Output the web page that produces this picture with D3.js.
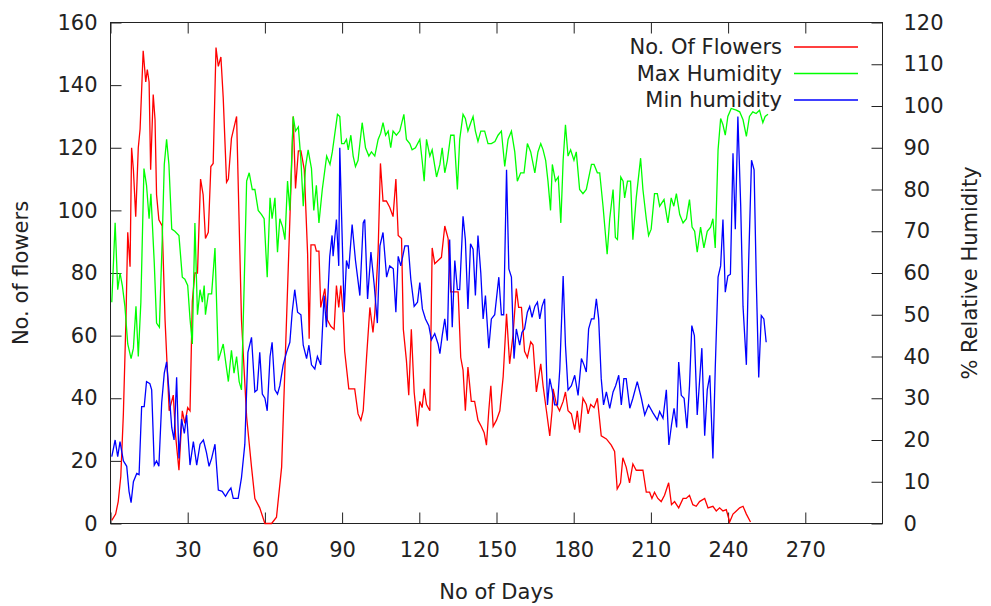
<!DOCTYPE html>
<html>
<head>
<meta charset="utf-8">
<script src="https://cdn.jsdelivr.net/npm/d3@7"></script>
<style>
  html, body { margin: 0; padding: 0; background: #fff; }
  svg text { font-family: "DejaVu Sans", sans-serif; fill: #222; }
</style>
</head>
<body>
<div id="chart"></div>
<script>
// No. of flowers (left axis)
var flowerDays = [0.5, 2, 3, 4, 5, 6, 6.7, 7.6, 8.2, 8.9, 9.8, 10.8, 11.5, 12.7, 13.7, 14.3, 15, 15.6, 16.6, 17.3, 17.9, 18.8, 20.1, 21.2, 22.8, 24.4, 25.3, 26.6, 27.9, 28.9, 30, 30.9, 31.8, 32.8, 33.8, 35, 36, 36.9, 38, 39, 39.9, 41, 41.9, 42.9, 43.8, 45.1, 45.8, 47, 49, 50.9, 52.9, 54.8, 56.1, 58, 60, 62.6, 64.5, 66.5, 68.4, 69.7, 71, 71.9, 73, 74, 75.3, 76.6, 77.2, 77.9, 79.4, 80, 81, 81.7, 83.3, 84.3, 85.6, 86.9, 87.8, 88.7, 89.5, 90.4, 91, 92.6, 94.9, 96.2, 97.3, 98.2, 99.5, 100.8, 102, 102.7, 104, 104.9, 105.9, 107.2, 108.5, 109.8, 110.9, 111.8, 113.1, 113.8, 115, 115.9, 116.9, 118, 119.3, 120.2, 121.1, 121.9, 122.8, 124.1, 125, 126, 127.3, 128.6, 129.9, 131.2, 132.2, 133.8, 135.1, 136.1, 137, 137.9, 138.9, 140.2, 141.5, 142.8, 144.1, 145.2, 146.1, 147, 147.8, 148.7, 150, 151.3, 152.6, 153.9, 155.1, 156.4, 157.7, 158.6, 159.7, 160.9, 162, 163.3, 164.2, 165.5, 167.2, 168.1, 169.4, 170.7, 171.6, 172, 173.3, 174.5, 175.9, 176.8, 177.8, 179.1, 180.4, 181.4, 182.3, 183.6, 184.9, 185.6, 186.6, 187.9, 189.2, 190.7, 192.7, 194.6, 195.9, 196.9, 198.2, 199.1, 200.4, 201.7, 203, 204.3, 205.6, 206.9, 208.2, 209.5, 210.4, 211.4, 212.7, 214, 215.3, 216.9, 218, 219.2, 220.8, 222.5, 223.7, 225, 226.3, 227.6, 228.9, 230.9, 232.2, 234.1, 235.4, 236.7, 238, 239.3, 240.6, 241.9, 243.2, 244.5, 245.8, 247.1, 248.7];
var flowers = [1, 3, 7, 15, 35, 65, 93, 82, 120, 113, 98, 120, 126, 151, 141, 145, 141, 113, 137, 129, 105, 97, 95, 65, 36, 41, 28, 17, 36, 32, 37, 36, 71, 80, 80, 110, 105, 91, 93, 114, 115, 152, 146, 149, 136, 109, 110, 123, 130, 65, 34, 18, 8, 5, 0, 0, 2, 18, 65, 97, 130, 107, 119, 119, 113, 86, 59, 89, 89, 87, 87, 69, 75, 65, 63, 62, 76, 69, 76, 67, 55, 43, 43, 35, 33, 36, 53, 69, 61, 67, 87, 115, 103, 103, 101, 98, 110, 92, 91, 62, 52, 41, 62, 42, 31, 39, 37, 43, 38, 36, 88, 83, 84, 85, 95, 91, 74, 74, 74, 53, 49, 36, 50, 39, 39, 33, 31, 29, 25, 36, 44, 31, 33, 36, 47, 67, 51, 60, 75, 69, 69, 55, 53, 58, 57, 42, 51, 44, 36, 28, 36, 43, 38, 36, 39, 42, 36, 35, 30, 36, 29, 40, 38, 35, 38, 37, 40, 28, 27, 25, 23, 11, 13, 21, 18, 13, 19, 17, 17, 17, 10, 10, 8, 10, 8, 7, 9, 13, 6, 7, 5, 8, 8, 9, 6, 5.5, 7, 8, 5, 5.5, 4, 5, 4, 4.4, 0.5, 3, 4, 5, 5.5, 3, 0.5];

// Max humidity (right axis, %)
var maxDays = [0.5, 1.8, 2.8, 3.7, 4.6, 5.6, 6.7, 8, 8.9, 9.9, 10.8, 11.8, 13, 14, 15, 15.7, 17, 17.9, 19, 20.1, 20.9, 21.8, 22.7, 23.8, 25, 26.6, 27.9, 28.9, 30, 30.9, 31.8, 32.8, 33.8, 34.8, 35.7, 36.4, 36.9, 38, 39.3, 40.6, 41.9, 43.8, 45.8, 47, 48, 49, 50, 50.9, 52, 52.9, 53.9, 55.1, 56.1, 57.4, 58.7, 59.7, 60.9, 62, 62.8, 63.9, 64.9, 65.8, 66.9, 67.8, 68.8, 69.7, 71, 71.9, 73, 74, 74.9, 75.8, 76.8, 78.1, 79, 80, 81, 82.3, 84, 85.3, 86.2, 87.2, 88.2, 89.1, 89.8, 90.8, 91.7, 92.4, 93.4, 94.3, 95.2, 96.2, 97.8, 99.1, 100.4, 101.4, 102.7, 104, 105, 105.9, 106.9, 107.9, 108.9, 109.8, 111.1, 112.4, 114, 115, 116.3, 117.2, 118.5, 120.2, 121.1, 121.9, 122.8, 124.1, 125, 126.7, 128, 128.9, 129.9, 130.9, 132.2, 133.5, 134.8, 135.7, 137, 137.9, 138.9, 140, 140.9, 141.8, 142.8, 143.9, 145.4, 146.7, 148, 149.4, 150.6, 151.9, 153.2, 154.5, 155.8, 157.1, 158.1, 159.4, 160.7, 162, 163.3, 164.9, 166.1, 167.2, 168.1, 169.1, 170, 171, 171.7, 172.9, 174, 175, 175.9, 176.8, 177.8, 178.8, 180.1, 181, 182.3, 183.6, 184.9, 186.9, 187.9, 189.2, 190.1, 191.4, 193, 194, 195.3, 196.2, 197, 198.3, 199.2, 199.8, 200.9, 202.1, 203, 204.3, 206, 206.9, 208.2, 209.1, 210.1, 211.4, 212.5, 213.4, 215.1, 216.6, 217.9, 218.9, 219.9, 221.2, 222.5, 223.8, 225, 226, 227, 228, 229.3, 230.6, 231.9, 233.2, 234.1, 235, 236.1, 237.1, 238, 238.9, 239.9, 241.2, 243.2, 244.5, 245.8, 247.1, 248.3, 249.6, 250.9, 252.2, 253.5, 254.4, 255.5];
var maxHumidity = [53, 72, 56, 60, 57, 52, 43, 39.5, 42, 52, 40, 53, 85, 81, 73, 79, 62.5, 48, 47, 68, 86, 92, 86, 70.5, 70, 69, 59, 58.5, 57, 49, 43, 72, 50, 56, 53, 57, 50, 55, 55, 66, 39, 43, 34, 41.5, 36, 40, 34, 32, 58.5, 82, 84, 80, 80, 75, 74, 73, 59, 78, 73, 78, 65, 73, 71, 68, 82, 75, 97.5, 94, 95, 87, 76, 85.5, 89.5, 85, 75, 81, 72, 80, 88, 86, 89, 93.5, 98, 97.5, 91, 91, 92, 89.5, 93, 88, 85.5, 87, 96, 90, 88, 89, 88, 92, 93.5, 96, 93, 94, 90, 94, 93, 94, 98, 92, 91, 89.5, 90, 92, 87, 82, 92, 88, 89.5, 83, 86, 90, 84, 87, 93, 93, 80, 92, 98, 97, 94, 96, 97.5, 94, 91.5, 94, 94, 91, 91, 91.5, 93, 94, 85.5, 92, 94, 89, 82, 84, 84, 91, 89, 84, 89, 91, 89.5, 87, 82, 75, 86, 82, 83, 72, 87, 95.5, 88, 89.5, 87, 89, 80, 79, 80, 86, 86, 84, 84, 76, 64.5, 73, 80, 68.5, 68, 83, 82, 78, 82, 82, 68, 78, 87.5, 80, 73, 69, 70.5, 79, 79, 76, 77.6, 72, 78, 76, 79, 74, 72, 73, 77.6, 71, 70, 65, 71, 66, 70, 71, 73, 66, 89.5, 97, 95.5, 93, 97.5, 99.4, 99, 98.6, 96.7, 92.7, 97.5, 98.6, 98.2, 99, 96, 97.5, 98];

// Min humidity (right axis, %)
var minDays = [0.5, 1.8, 2.8, 3.7, 5, 6.3, 7.2, 8, 8.9, 10.2, 11.1, 12.1, 13.1, 14, 15.3, 16, 17, 17.9, 18.8, 19.9, 20.9, 21.8, 22.7, 23.8, 24.7, 25.7, 26.6, 27.6, 28.7, 29.6, 30.9, 32.2, 33.5, 34.8, 36.1, 37.3, 38.3, 39.3, 40.6, 41.9, 43.4, 44.7, 45.8, 46.8, 47.7, 49.6, 50.9, 52.2, 53.4, 54.8, 56.1, 57, 58, 59, 60, 60.9, 62, 62.8, 63.9, 64.9, 65.8, 67.1, 68.4, 69.7, 70.6, 71.6, 72.7, 74, 74.9, 76.2, 77.1, 78.1, 79.4, 80.4, 81.7, 83, 83.9, 85.2, 86.1, 86.5, 87.8, 88.7, 89.1, 90.8, 91.7, 92.6, 93.9, 95.2, 96.9, 98.2, 98.8, 99.9, 101.2, 102.5, 103.7, 104.7, 105.9, 107.3, 108.5, 109.9, 110.9, 111.8, 112.8, 114.4, 115.7, 116.7, 118, 119.3, 120.2, 121.2, 122.4, 123.7, 124.7, 126, 127.3, 128, 128.9, 129.9, 130.9, 131.8, 132.8, 133.8, 134.8, 135.7, 137, 137.9, 138.9, 139.9, 140.9, 141.8, 142.8, 143.9, 144.8, 145.7, 147, 148, 149.3, 150.9, 151.9, 152.8, 153.9, 154.8, 155.8, 156.8, 157.7, 159, 159.9, 160.9, 162, 162.9, 163.8, 164.9, 165.9, 166.8, 167.7, 168.7, 169.8, 170.7, 171.6, 172.6, 173.7, 174.6, 175.9, 176.8, 177.8, 179.1, 180.4, 181.7, 183, 184, 184.9, 185.8, 186.9, 187.9, 188.8, 189.7, 190.7, 191.6, 192.7, 194, 195.3, 196.3, 197.5, 198.5, 199.5, 200.4, 201.8, 203, 204.7, 206.3, 207.6, 209.1, 210.8, 212.5, 213.4, 214.7, 216, 217, 218, 219, 220, 220.8, 221.8, 222.9, 224, 225, 225.9, 226.9, 228, 228.9, 229.8, 230.9, 231.9, 232.9, 234.1, 235, 236.1, 237.1, 238, 238.9, 239.9, 240.9, 241.9, 242.8, 243.8, 244.9, 245.8, 247.1, 248, 249.1, 250.1, 251, 251.9, 252.9, 253.9, 254.8];
var minHumidity = [16, 20, 16, 19.6, 15, 13.7, 7.7, 5, 10, 12, 11.7, 28, 28, 34, 33.5, 32, 14, 15, 13.7, 29, 36, 38.7, 32, 23, 20, 35, 15.6, 25, 21.6, 26, 14, 19.6, 14, 19, 20, 17, 13.7, 15.6, 19, 8, 7.7, 6.5, 7.7, 8.5, 6, 6, 11, 19, 41, 44.6, 31.5, 32, 41, 31, 30, 27, 40, 43.4, 32, 31, 33, 38, 41, 43.4, 50.6, 56, 50.6, 50, 42.7, 39.5, 42.7, 38, 37, 40, 38, 54.6, 47, 64, 69, 64, 72.8, 61.7, 90, 50.6, 63, 61, 71.6, 63, 54.6, 72, 72.8, 53.8, 65, 57, 48, 66.5, 69.7, 59, 61.7, 61, 50.6, 64, 61.7, 66.5, 66.5, 58.5, 52, 53, 57.7, 51.4, 49, 47.4, 44, 45.5, 43, 40.7, 45, 49, 43.8, 68, 47, 63, 56, 56, 73.6, 68, 51.4, 67, 65.7, 54.6, 69, 60, 49, 54.6, 42, 49, 50, 59, 50, 50, 84.7, 61, 59, 39.5, 46.6, 42.7, 45.8, 46.6, 50.6, 52, 49.4, 52, 53, 49, 52, 53.8, 28.4, 34.7, 32, 28.4, 28.4, 37, 59.3, 42.7, 32, 33, 35.5, 30.7, 39.5, 38, 36.3, 46.6, 49, 49, 53.8, 49, 34.7, 28.4, 31.5, 27.6, 31.5, 33, 35.5, 28.4, 34.7, 34.7, 27.6, 30, 34, 30, 26, 28.4, 26.5, 24.8, 26.8, 25.2, 32, 18.8, 23.6, 27.6, 23, 38.7, 30.7, 30, 22.8, 33, 47.4, 45, 26, 34, 42, 21, 32, 35.5, 15.6, 37, 59, 61.7, 72.8, 55.4, 59.3, 59.7, 88.7, 70.5, 97.5, 76, 52, 38, 63, 87, 84.7, 57, 35, 49.8, 49, 43.4];

var xTicks = [0, 30, 60, 90, 120, 150, 180, 210, 240, 270];
var yTicks = [0, 20, 40, 60, 80, 100, 120, 140, 160];
var y2Ticks = [0, 10, 20, 30, 40, 50, 60, 70, 80, 90, 100, 110, 120];

var seriesNames = ["No. Of Flowers", "Max Humidity", "Min humidity"];
var seriesColors = ["#ff0000", "#00ff00", "#0000ff"];

function zip(days, vals) {
    return days.map(function (d, i) { return { day: d, v: vals[i] }; });
}

function go() {
    var width = 991, height = 606;
    var left = 110.5, right = 882.5, top = 22.5, bottom = 523.5;

    var svg = d3.select("#chart").append("svg")
        .attr("width", width)
        .attr("height", height);

    var x = d3.scaleLinear().domain([0, 300]).range([left, right]);
    var y = d3.scaleLinear().domain([0, 160]).range([bottom, top]);
    var y2 = d3.scaleLinear().domain([0, 120]).range([bottom, top]);

    var fontSize = "21px";
    var tick = 11;

    function styleAxis(g) {
        g.select(".domain").remove();
        g.selectAll(".tick line").attr("stroke", "#222");
        g.selectAll(".tick text").attr("font-size", fontSize).attr("fill", "#222")
            .attr("font-family", "DejaVu Sans, sans-serif");
    }

    svg.append("g")
        .attr("transform", "translate(0," + bottom + ")")
        .call(d3.axisBottom(x).tickValues(xTicks).tickSize(-tick).tickPadding(19))
        .call(styleAxis);

    // mirrored ticks on top
    svg.append("g")
        .attr("transform", "translate(0," + top + ")")
        .call(d3.axisTop(x).tickValues(xTicks).tickSize(-tick).tickFormat(""))
        .call(styleAxis);

    svg.append("g")
        .attr("transform", "translate(" + left + ",0)")
        .call(d3.axisLeft(y).tickValues(yTicks).tickSize(-tick).tickPadding(13))
        .call(styleAxis);

    svg.append("g")
        .attr("transform", "translate(" + right + ",0)")
        .call(d3.axisRight(y2).tickValues(y2Ticks).tickSize(-tick).tickPadding(21))
        .call(styleAxis);

    svg.append("rect")
        .attr("x", left).attr("y", top)
        .attr("width", right - left).attr("height", bottom - top)
        .attr("fill", "none").attr("stroke", "#222").attr("stroke-width", 1);

    var lineL = d3.line().x(function (d) { return x(d.day); }).y(function (d) { return y(d.v); });
    var lineR = d3.line().x(function (d) { return x(d.day); }).y(function (d) { return y2(d.v); });

    svg.append("path").datum(zip(flowerDays, flowers))
        .attr("d", lineL).attr("fill", "none")
        .attr("stroke", seriesColors[0]).attr("stroke-width", 1.3);
    svg.append("path").datum(zip(maxDays, maxHumidity))
        .attr("d", lineR).attr("fill", "none")
        .attr("stroke", seriesColors[1]).attr("stroke-width", 1.3);
    svg.append("path").datum(zip(minDays, minHumidity))
        .attr("d", lineR).attr("fill", "none")
        .attr("stroke", seriesColors[2]).attr("stroke-width", 1.3);

    // legend
    var legend = svg.append("g");
    seriesNames.forEach(function (name, i) {
        var ly = 47 + i * 26.5;
        legend.append("text")
            .attr("x", 782).attr("y", ly).attr("dy", "0.35em")
            .attr("text-anchor", "end").attr("font-size", fontSize)
            .text(name);
        legend.append("line")
            .attr("x1", 794).attr("x2", 858).attr("y1", ly).attr("y2", ly)
            .attr("stroke", seriesColors[i]).attr("stroke-width", 1.3);
    });

    // axis titles
    svg.append("text")
        .attr("x", (left + right) / 2).attr("y", 592).attr("dy", "0.35em")
        .attr("text-anchor", "middle").attr("font-size", fontSize)
        .text("No of Days");
    svg.append("text")
        .attr("transform", "translate(21," + (top + bottom) / 2 + ") rotate(-90)")
        .attr("dy", "0.35em").attr("text-anchor", "middle").attr("font-size", fontSize)
        .text("No. of flowers");
    svg.append("text")
        .attr("transform", "translate(970," + (top + bottom) / 2 + ") rotate(-90)")
        .attr("dy", "0.35em").attr("text-anchor", "middle").attr("font-size", fontSize)
        .text("% Relative Humidity");
}

document.addEventListener("DOMContentLoaded", function () {
    go();
});
</script>
</body>
</html>
